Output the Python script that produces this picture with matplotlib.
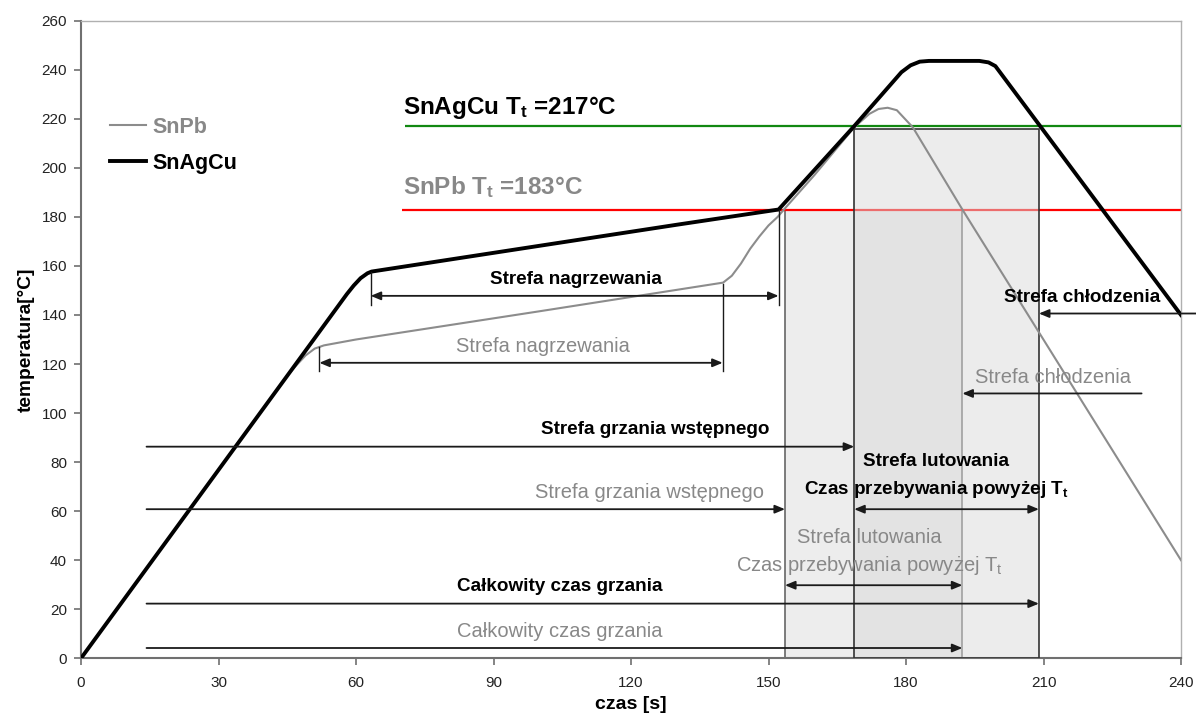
import matplotlib
matplotlib.use("Agg")
import matplotlib.pyplot as plt
from matplotlib.patches import Rectangle

plt.rcParams['font.family'] = ['Liberation Sans', 'DejaVu Sans']
plt.rcParams['mathtext.fontset'] = 'custom'
plt.rcParams['mathtext.rm'] = 'Liberation Sans'
plt.rcParams['mathtext.bf'] = 'Liberation Sans:bold'

# ---------------- data ----------------
sac_t = [0, 58, 59.5, 61, 62.5, 63.4, 100, 130, 152.2, 168.7, 179, 181, 183, 185, 196, 198, 199.5, 209, 240]
sac_T = [0, 148.5, 152, 155, 157, 157.7, 168.2, 176.8, 183, 217, 239, 241.8, 243.3, 243.6, 243.6, 243, 241.5, 217.7, 140]

snpb_t = [0, 45, 47, 49, 51, 53, 60, 100, 140.1, 142, 144, 146, 148, 150, 152, 153.6, 160, 168.7,
          172, 174, 176, 178, 180, 181.5, 192.3, 240]
snpb_T = [0, 115.3, 119.5, 123.5, 126.3, 127.6, 130, 141.5, 153.2, 156, 161, 167, 172, 176.5, 180, 183.5,
          197, 216.5, 222, 224, 224.5, 223.5, 219.5, 216.5, 183, 40]

Tt_sac = 217
Tt_snpb = 183

# zone boundaries [s]
sac_heat_start, sac_heat_end = 63.2, 152.2
snpb_heat_start, snpb_heat_end = 52, 140
snpb_liq_start, snpb_liq_end = 153.6, 192.3
sac_liq_start, sac_liq_end = 168.7, 209
preheat_start = 14.3

x_ticks = list(range(0, 241, 30))
y_ticks = list(range(0, 261, 20))

BLACK = '#000000'
GRAY = '#8c8c8c'
TXT_GRAY = '#888888'

fig = plt.figure(figsize=(11.96, 7.15), dpi=100)
ax = fig.add_axes([81/1196, 1-658.3/715, 1100/1196, (658.3-20.7)/715])
ax.set_xlim(0, 240)
ax.set_ylim(0, 260)

# shaded liquidus zones
ax.add_patch(Rectangle((snpb_liq_start, 0), snpb_liq_end-snpb_liq_start, Tt_snpb,
                       facecolor='#ededed', edgecolor='#666666', lw=1.2, zorder=1))
ax.add_patch(Rectangle((sac_liq_start, 0), sac_liq_end-sac_liq_start, Tt_sac-1,
                       facecolor=(219/255, 219/255, 219/255, 0.5), edgecolor='#333333', lw=1.2, zorder=3))

# melting temperature lines
ax.plot([70, 240], [Tt_snpb, Tt_snpb], color='#ff0000', lw=1.6, zorder=2, solid_capstyle='butt')
ax.plot([70.8, 240], [Tt_sac, Tt_sac], color='#118811', lw=1.6, zorder=4, solid_capstyle='butt')

# profiles
l_snpb, = ax.plot(snpb_t, snpb_T, color=GRAY, lw=1.5, zorder=6, label='SnPb')
l_sac, = ax.plot(sac_t, sac_T, color=BLACK, lw=2.8, zorder=7, label='SnAgCu')

leg = ax.legend(handles=[l_snpb, l_sac], loc='center left', bbox_to_anchor=(0.0264, 209.2/260),
                frameon=False, borderpad=0, borderaxespad=0, handlelength=1.65, handletextpad=0.3,
                labelspacing=0.7, prop=dict(size=15.5, weight='bold'))
leg.get_texts()[0].set_color(TXT_GRAY)
leg.get_texts()[1].set_color(BLACK)

# temperature labels
ax.text(70.3, 222.0, r'SnAgCu $\mathbf{T_t}$ =217°C', fontsize=17.5, fontweight='bold',
        color=BLACK, ha='left', va='baseline', zorder=8)
ax.text(70.3, 189.4, r'SnPb $\mathbf{T_t}$ =183°C', fontsize=17.5, fontweight='bold',
        color=TXT_GRAY, ha='left', va='baseline', zorder=8)

AL = '#1a1a1a'

def arrow(x0, x1, y, both=False):
    style = '<|-|>' if both else '-|>'
    ax.annotate('', xy=(x1, y), xytext=(x0, y), annotation_clip=False,
                arrowprops=dict(arrowstyle=style + ',head_length=0.6,head_width=0.25',
                                color=AL, lw=1.3, shrinkA=0, shrinkB=0), zorder=9)

def vline(x, y0, y1):
    ax.plot([x, x], [y0, y1], color=AL, lw=1.0, zorder=9)

# heating zones
arrow(sac_heat_start, sac_heat_end, 147.8, both=True)
vline(sac_heat_start, 157.7, 144)
vline(sac_heat_end, 183, 144)
ax.text(108, 154.3, 'Strefa nagrzewania', fontsize=13.6, fontweight='bold', color=BLACK,
        ha='center', va='center', zorder=10)

arrow(snpb_heat_start, snpb_heat_end, 120.5, both=True)
vline(snpb_heat_start, 127, 117)
vline(snpb_heat_end, 152.8, 117)
ax.text(100.7, 127.2, 'Strefa nagrzewania', fontsize=14.5, color=TXT_GRAY,
        ha='center', va='center', zorder=10)

# cooling zones
arrow(243.5, sac_liq_end, 140.6)
ax.text(218.5, 147.3, 'Strefa chłodzenia', fontsize=13.6, fontweight='bold', color=BLACK,
        ha='center', va='center', zorder=10)
arrow(231.4, snpb_liq_end, 108)
ax.text(212, 114.6, 'Strefa chłodzenia', fontsize=14.5, color=TXT_GRAY,
        ha='center', va='center', zorder=10)

# preheat zones
arrow(preheat_start, sac_liq_start, 86.3)
ax.text(125.3, 93.2, 'Strefa grzania wstępnego', fontsize=13.6, fontweight='bold', color=BLACK,
        ha='center', va='center', zorder=10)
arrow(preheat_start, snpb_liq_start, 60.8)
ax.text(124, 67.5, 'Strefa grzania wstępnego', fontsize=14.5, color=TXT_GRAY,
        ha='center', va='center', zorder=10)

# soldering zones
arrow(sac_liq_start, sac_liq_end, 60.8, both=True)
ax.text(186.5, 80.4, 'Strefa lutowania', fontsize=13.6, fontweight='bold', color=BLACK,
        ha='center', va='center', zorder=10)
ax.text(186.5, 68.9, r'Czas przebywania powyżej $\mathbf{T_t}$', fontsize=13.6, fontweight='bold',
        color=BLACK, ha='center', va='center', zorder=10)
arrow(snpb_liq_start, snpb_liq_end, 29.8, both=True)
ax.text(172, 49.3, 'Strefa lutowania', fontsize=14.5, color=TXT_GRAY,
        ha='center', va='center', zorder=10)
ax.text(172, 38.0, r'Czas przebywania powyżej $\mathrm{T_t}$', fontsize=14.5, color=TXT_GRAY,
        ha='center', va='center', zorder=10)

# total heating time
arrow(preheat_start, sac_liq_end, 22.3)
ax.text(104.4, 29.3, 'Całkowity czas grzania', fontsize=13.6, fontweight='bold', color=BLACK,
        ha='center', va='center', zorder=10)
arrow(preheat_start, snpb_liq_end, 4.2)
ax.text(104.4, 11.0, 'Całkowity czas grzania', fontsize=14.5, color=TXT_GRAY,
        ha='center', va='center', zorder=10)

# axes styling
ax.set_xticks(x_ticks)
ax.set_yticks(y_ticks)
ax.tick_params(axis='both', direction='out', length=5, width=1.2, color='#707070',
               labelsize=11, labelcolor='#222222')
ax.tick_params(axis='x', pad=8)
ax.tick_params(axis='y', pad=5)
for s in ['left', 'bottom']:
    ax.spines[s].set_color('#707070')
    ax.spines[s].set_linewidth(1.5)
for s in ['top', 'right']:
    ax.spines[s].set_color('#b0b0b0')
    ax.spines[s].set_linewidth(1.0)

ax.set_xlabel('czas [s]', fontsize=14, fontweight='bold', labelpad=4)
ax.set_ylabel('temperatura[°C]', fontsize=13.8, fontweight='bold', labelpad=5)

fig.savefig('out.png', dpi=100)
